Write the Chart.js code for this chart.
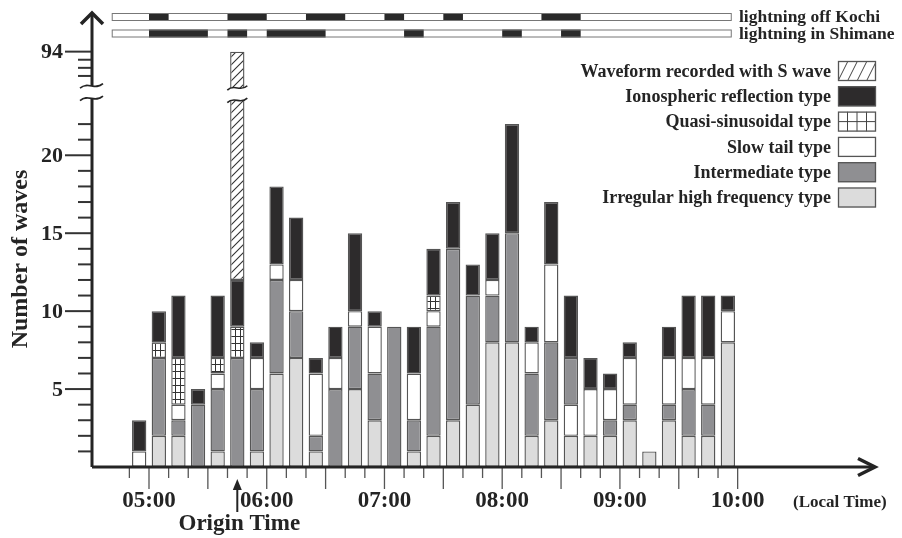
<!DOCTYPE html>
<html>
<head>
<meta charset="utf-8">
<title>Number of waves</title>
<script src="https://cdn.jsdelivr.net/npm/chart.js@4.4.1/dist/chart.umd.min.js"></script>
<style>
  html, body { margin: 0; padding: 0; background: #fff; }
  #wrap { position: relative; width: 902px; height: 538px; }
</style>
</head>
<body>
<div id="wrap"><canvas id="chartWaves" width="902" height="538"></canvas></div>
<script>
// 10-minute bins (start time of each bin)
const binStarts = ['04:50', '05:00', '05:10', '05:20', '05:30', '05:40', '05:50',
  '06:00', '06:10', '06:20', '06:30', '06:40', '06:50',
  '07:00', '07:10', '07:20', '07:30', '07:40', '07:50',
  '08:00', '08:10', '08:20', '08:30', '08:40', '08:50',
  '09:00', '09:10', '09:20', '09:30', '09:40', '09:50'];

// wave counts per bin, by type
const irregular       = [0, 2, 2, 0, 1, 0, 1, 6, 7, 1, 0, 5, 3, 0, 1, 2, 3, 4, 8, 8, 2, 3, 2, 2, 2, 3, 1, 3, 2, 2, 8];
const intermediate    = [0, 5, 1, 4, 4, 7, 4, 6, 3, 1, 5, 4, 3, 9, 2, 7, 11, 7, 3, 7, 4, 5, 3, 0, 1, 1, 0, 1, 3, 2, 0];
const slowTail        = [1, 0, 1, 0, 1, 0, 2, 1, 2, 4, 2, 1, 3, 0, 3, 1, 0, 0, 1, 0, 2, 5, 2, 3, 2, 3, 0, 3, 2, 3, 2];
const quasiSinusoidal = [0, 1, 3, 0, 1, 2, 0, 0, 0, 0, 0, 0, 0, 0, 0, 1, 0, 0, 0, 0, 0, 0, 0, 0, 0, 0, 0, 0, 0, 0, 0];
const ionospheric     = [2, 2, 4, 1, 4, 3, 1, 5, 4, 1, 2, 5, 1, 0, 3, 3, 3, 2, 3, 7, 1, 4, 4, 2, 1, 1, 0, 2, 4, 4, 1];
const sWave           = [0, 0, 0, 0, 0, 82, 0, 0, 0, 0, 0, 0, 0, 0, 0, 0, 0, 0, 0, 0, 0, 0, 0, 0, 0, 0, 0, 0, 0, 0, 0];
// bins where the slow tail block sits under the intermediate block
const slowTailBelowIntermediate = ['08:30'];

const hourLabels = ['05:00', '06:00', '07:00', '08:00', '09:00', '10:00'];
const yTickLabels = [5, 10, 15, 20, 94];
const originTime = '05:45';

// lightning activity strips
const lightningSpan = ['04:41', '09:57'];
const lightningKochi = [['05:00', '05:10'], ['05:40', '06:00'], ['06:20', '06:40'],
  ['07:00', '07:10'], ['07:30', '07:40'], ['08:20', '08:40']];
const lightningShimane = [['05:00', '05:30'], ['05:40', '05:50'], ['06:00', '06:30'],
  ['07:10', '07:20'], ['08:00', '08:10'], ['08:30', '08:40']];

const SERIF = '"Liberation Serif", "Times New Roman", serif';
const INK = '#242424';

function toMin(t) {
  const [h, m] = t.split(':').map(Number);
  return h * 60 + m;
}

// broken y axis: 0..23 linear, then jump to the 90s on a compressed scale
function axisPos(v) {
  if (v <= 23.5) return v;
  return 26.65 - (94 - v) * 0.52;
}

function makePattern(kind) {
  const c = document.createElement('canvas');
  const g = c.getContext('2d');
  if (kind === 'hatch') {
    c.width = 8; c.height = 8;
    g.fillStyle = '#fff'; g.fillRect(0, 0, 8, 8);
    g.strokeStyle = '#333'; g.lineWidth = 1.1;
    g.beginPath();
    g.moveTo(0, 8); g.lineTo(8, 0);
    g.moveTo(-1, 1); g.lineTo(1, -1);
    g.moveTo(7, 9); g.lineTo(9, 7);
    g.stroke();
  } else {
    c.width = 5; c.height = 7;
    g.fillStyle = '#fff'; g.fillRect(0, 0, 5, 7);
    g.fillStyle = '#333';
    g.fillRect(0, 0, 1, 7);
    g.fillRect(0, 0, 5, 1);
  }
  return g.createPattern(c, 'repeat');
}

const BIN = 10;
const barX = binStarts.map(t => toMin(t) + BIN / 2);
const slowLow = slowTail.map((v, i) => slowTailBelowIntermediate.includes(binStarts[i]) ? v : 0);
const slowHigh = slowTail.map((v, i) => v - slowLow[i]);

// bottom to top
const layers = [
  { label: 'Irregular high frequency type', values: irregular, color: '#dcdcdc', swatch: 'fill' },
  { label: null, values: slowLow, color: '#ffffff' },
  { label: 'Intermediate type', values: intermediate, color: '#8f8f92', swatch: 'fill' },
  { label: 'Slow tail type', values: slowHigh, color: '#ffffff', swatch: 'fill' },
  { label: 'Quasi-sinusoidal type', values: quasiSinusoidal, color: makePattern('grid'), swatch: 'grid' },
  { label: 'Ionospheric reflection type', values: ionospheric, color: '#2d2b2c', swatch: 'fill' },
  { label: 'Waveform recorded with S wave', values: sWave, color: makePattern('hatch'), swatch: 'hatch' }
];

const cum = new Array(binStarts.length).fill(0);
const datasets = layers.map(layer => {
  const data = layer.values.map((v, i) => {
    const base = cum[i], top = base + v;
    cum[i] = top;
    return { x: barX[i], y: v ? axisPos(top) - axisPos(base) : null };
  });
  return {
    label: layer.label || '',
    data: data,
    backgroundColor: layer.color,
    borderColor: '#555',
    borderWidth: 1.4,
    borderSkipped: false,
    categoryPercentage: 1,
    barPercentage: 0.73,
    swatch: layer.swatch,
    swatchColor: layer.color
  };
});

function wavePath(ctx, x0, x1, yc, amp) {
  const w = x1 - x0;
  ctx.moveTo(x0, yc + amp);
  ctx.bezierCurveTo(x0 + w * 0.35, yc - amp * 2.2, x0 + w * 0.65, yc + amp * 2.2, x1, yc - amp);
}

function drawBreak(ctx, x0, x1, yTop, yBot, amp) {
  const w = x1 - x0;
  ctx.save();
  ctx.fillStyle = '#fff';
  ctx.beginPath();
  ctx.moveTo(x0, yTop + amp);
  ctx.bezierCurveTo(x0 + w * 0.35, yTop - amp * 2.2, x0 + w * 0.65, yTop + amp * 2.2, x1, yTop - amp);
  ctx.lineTo(x1, yBot - amp);
  ctx.bezierCurveTo(x0 + w * 0.65, yBot + amp * 2.2, x0 + w * 0.35, yBot - amp * 2.2, x0, yBot + amp);
  ctx.closePath();
  ctx.fill();
  ctx.strokeStyle = INK;
  ctx.lineWidth = 1.6;
  ctx.beginPath();
  wavePath(ctx, x0, x1, yTop, amp);
  wavePath(ctx, x0, x1, yBot, amp);
  ctx.stroke();
  ctx.restore();
}

function drawSwatch(ctx, ds, bx, by, bw, bh) {
  ctx.save();
  ctx.fillStyle = ds.swatch === 'fill' ? ds.swatchColor : '#fff';
  ctx.fillRect(bx, by, bw, bh);
  ctx.beginPath();
  ctx.rect(bx, by, bw, bh);
  ctx.clip();
  ctx.strokeStyle = '#444';
  ctx.lineWidth = 1;
  ctx.beginPath();
  if (ds.swatch === 'grid') {
    for (let k = 1; k < 4; k++) { ctx.moveTo(bx + bw * k / 4, by); ctx.lineTo(bx + bw * k / 4, by + bh); }
    ctx.moveTo(bx, by + bh / 2); ctx.lineTo(bx + bw, by + bh / 2);
  } else if (ds.swatch === 'hatch') {
    for (let k = 0; k < 4; k++) {
      const sx = bx + 3 + k * 9.5;
      ctx.moveTo(sx - 3, by + bh); ctx.lineTo(sx + 7, by);
    }
  }
  ctx.stroke();
  ctx.restore();
  ctx.lineWidth = 1.3;
  ctx.strokeStyle = '#555';
  ctx.strokeRect(bx + 0.5, by + 0.5, bw - 1, bh - 1);
}

const figureDecor = {
  id: 'figureDecor',
  afterDatasetsDraw(chart) {
    const { ctx, chartArea: area, scales: { x, y } } = chart;
    const yPos = v => y.getPixelForValue(axisPos(v));
    const x0 = area.left, yb = area.bottom;
    ctx.save();

    // x axis ticks (10 min), long every 30 min
    ctx.strokeStyle = '#555';
    ctx.lineWidth = 1.3;
    const tStart = toMin(binStarts[0]), tEnd = toMin(binStarts[binStarts.length - 1]) + BIN;
    for (let m = tStart; m <= tEnd; m += BIN) {
      const px = x.getPixelForValue(m);
      ctx.beginPath();
      ctx.moveTo(px, yb + 1);
      ctx.lineTo(px, yb + (m % 30 === 0 ? 22 : 11));
      ctx.stroke();
    }

    // y axis ticks
    ctx.strokeStyle = '#333';
    ctx.lineWidth = 2;
    const minorTicks = [];
    for (let v = 1; v <= 22; v++) minorTicks.push(v);
    for (let v = 91; v <= 94; v++) minorTicks.push(v);
    minorTicks.forEach(v => {
      const py = yPos(v);
      const len = yTickLabels.includes(v) ? 27 : 14;
      ctx.beginPath();
      ctx.moveTo(x0 - len, py);
      ctx.lineTo(x0, py);
      ctx.stroke();
    });

    // axis lines with open arrow heads
    ctx.strokeStyle = INK;
    ctx.lineWidth = 3;
    ctx.lineJoin = 'miter';
    ctx.beginPath();
    ctx.moveTo(x0, yb);
    ctx.lineTo(area.right - 1, yb);
    ctx.moveTo(x0, yb);
    ctx.lineTo(x0, area.top - 2);
    ctx.stroke();
    ctx.lineWidth = 3.5;
    ctx.beginPath();
    ctx.moveTo(area.right - 17, yb - 8.5);
    ctx.lineTo(area.right, yb);
    ctx.lineTo(area.right - 17, yb + 8.5);
    ctx.moveTo(x0 - 11, area.top + 9);
    ctx.lineTo(x0, area.top - 2);
    ctx.lineTo(x0 + 11, area.top + 9);
    ctx.stroke();

    // axis break on y axis and on the S-wave bar
    const brTop = y.getPixelForValue(24.45), brBot = y.getPixelForValue(23.65);
    drawBreak(ctx, x0 - 12, x0 + 11, brTop, brBot, 2.2);
    const sIdx = sWave.findIndex(v => v > 0);
    const sx = x.getPixelForValue(barX[sIdx]);
    drawBreak(ctx, sx - 10, sx + 10, brTop + 2, brBot + 2, 2.2);

    // tick labels
    ctx.fillStyle = INK;
    ctx.font = 'bold 22px ' + SERIF;
    ctx.textAlign = 'right';
    ctx.textBaseline = 'middle';
    yTickLabels.forEach(v => ctx.fillText(String(v), x0 - 29, yPos(v) + 1));

    ctx.font = 'bold 23px ' + SERIF;
    ctx.textAlign = 'center';
    ctx.textBaseline = 'alphabetic';
    hourLabels.forEach(t => ctx.fillText(t, x.getPixelForValue(toMin(t)), yb + 40));

    ctx.font = 'bold 17px ' + SERIF;
    ctx.textAlign = 'left';
    ctx.fillText('(Local Time)', 793, yb + 40);

    // origin time arrow
    const ox = x.getPixelForValue(toMin(originTime));
    ctx.strokeStyle = INK;
    ctx.lineWidth = 2;
    ctx.beginPath();
    ctx.moveTo(ox, yb + 45);
    ctx.lineTo(ox, yb + 20);
    ctx.stroke();
    ctx.beginPath();
    ctx.moveTo(ox, yb + 12);
    ctx.lineTo(ox - 4.5, yb + 23);
    ctx.lineTo(ox + 4.5, yb + 23);
    ctx.closePath();
    ctx.fill();
    ctx.font = 'bold 23px ' + SERIF;
    ctx.textAlign = 'center';
    ctx.fillText('Origin Time', ox + 2, yb + 63);

    // y axis title
    ctx.save();
    ctx.translate(21, 259);
    ctx.rotate(-Math.PI / 2);
    ctx.font = 'bold 24px ' + SERIF;
    ctx.textBaseline = 'middle';
    ctx.fillText('Number of waves', 0, 0);
    ctx.restore();

    // lightning strips
    const sL = x.getPixelForValue(toMin(lightningSpan[0]));
    const sR = x.getPixelForValue(toMin(lightningSpan[1]));
    [[lightningKochi, 13, 'lightning off Kochi'], [lightningShimane, 29.5, 'lightning in Shimane']].forEach(([periods, top, name]) => {
      ctx.fillStyle = '#fff';
      ctx.fillRect(sL, top, sR - sL, 8);
      ctx.fillStyle = '#2a2a2a';
      periods.forEach(([a, b]) => {
        const pa = x.getPixelForValue(toMin(a)), pb = x.getPixelForValue(toMin(b));
        ctx.fillRect(pa, top, pb - pa, 8);
      });
      ctx.strokeStyle = '#777';
      ctx.lineWidth = 1;
      ctx.strokeRect(sL + 0.5, top + 0.5, sR - sL - 1, 7);
      ctx.fillStyle = INK;
      ctx.font = 'bold 17.5px ' + SERIF;
      ctx.textAlign = 'left';
      ctx.textBaseline = 'middle';
      ctx.fillText(name, 739, top + 4.5);
    });

    // legend
    const items = chart.data.datasets.filter(ds => ds.swatch).slice().reverse();
    ctx.font = 'bold 18px ' + SERIF;
    ctx.textAlign = 'right';
    ctx.textBaseline = 'middle';
    items.forEach((ds, k) => {
      const cy = 71 + k * 25.3;
      drawSwatch(ctx, ds, 838, cy - 10, 38, 20);
      ctx.fillStyle = INK;
      ctx.fillText(ds.label, 831, cy + 1);
    });

    ctx.restore();
  }
};

new Chart(document.getElementById('chartWaves'), {
  type: 'bar',
  data: { datasets: datasets },
  options: {
    responsive: false,
    animation: false,
    layout: { padding: { left: 92, right: 27, top: 15, bottom: 71 } },
    plugins: {
      legend: { display: false },
      tooltip: { enabled: false }
    },
    scales: {
      x: {
        type: 'linear',
        display: false,
        stacked: true,
        offset: false,
        min: 270.95,
        max: 670,
        ticks: { stepSize: 10 }
      },
      y: {
        type: 'linear',
        display: false,
        stacked: true,
        min: 0,
        max: 29
      }
    }
  },
  plugins: [figureDecor]
});
</script>
</body>
</html>
